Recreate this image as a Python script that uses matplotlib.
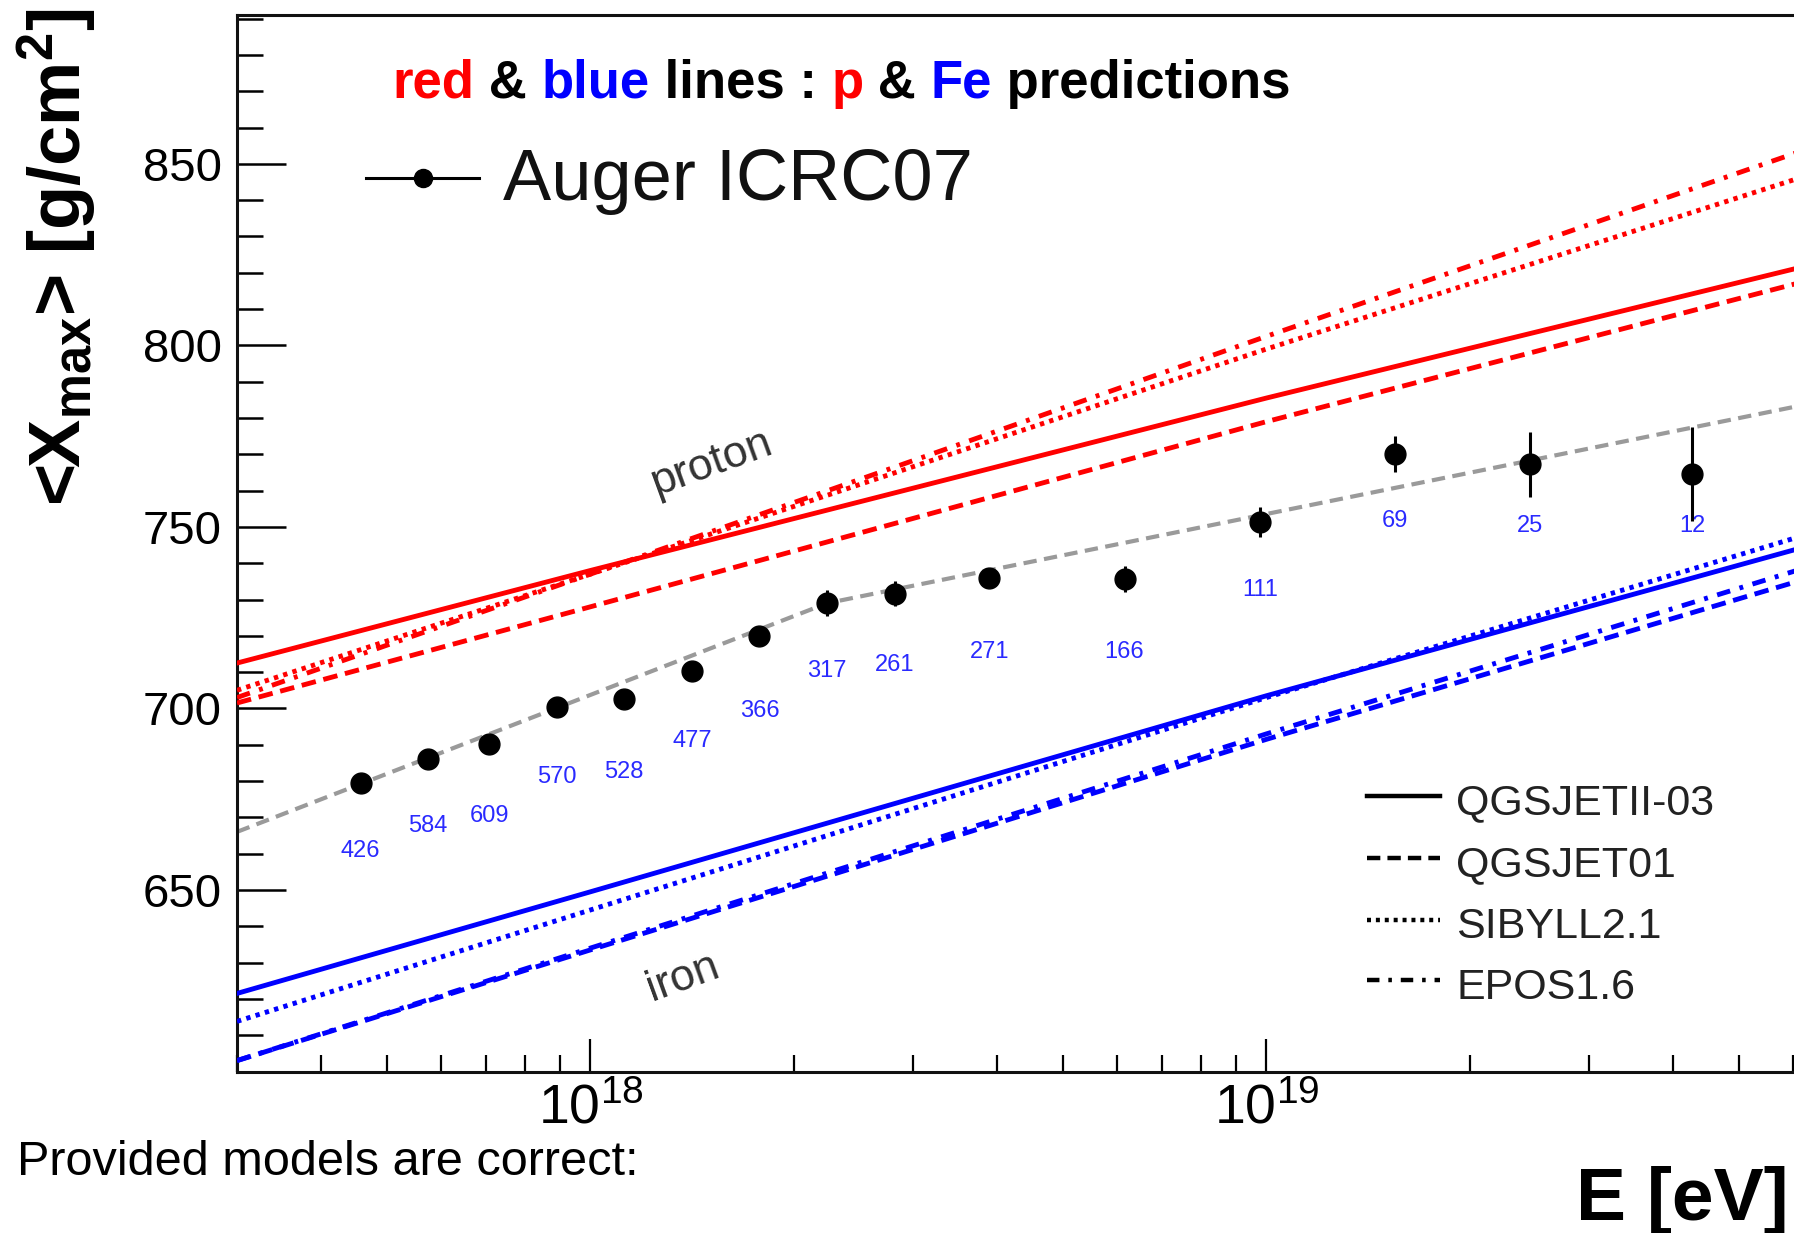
import numpy as np
import matplotlib
matplotlib.use("Agg")
import matplotlib.pyplot as plt
from matplotlib.lines import Line2D
from matplotlib.ticker import FixedLocator, LogLocator, MultipleLocator, NullFormatter

plt.rcParams["font.family"] = ["Liberation Sans", "DejaVu Sans"]
plt.rcParams["mathtext.fontset"] = "custom"
plt.rcParams["mathtext.rm"] = "Liberation Sans"
plt.rcParams["mathtext.it"] = "Liberation Sans:italic"
plt.rcParams["mathtext.bf"] = "Liberation Sans:bold"

# ---- Auger ICRC07 <Xmax> measurements ----
log_energy = [17.66, 17.76, 17.85, 17.95, 18.05, 18.15, 18.25, 18.35, 18.45,
              18.59, 18.79, 18.99, 19.19, 19.39, 19.63]
xmax_mean = [679.6, 686.2, 690.3, 700.4, 702.6, 710.2, 719.9, 729.0, 731.6,
             736.0, 735.7, 751.4, 770.0, 767.2, 764.6]
xmax_err = [2.0, 2.0, 2.0, 2.0, 2.0, 2.0, 2.5, 3.5, 3.5,
            2.5, 3.5, 4.2, 5.0, 9.0, 13.0]
event_counts = [426, 584, 609, 570, 528, 477, 366, 317, 261,
                271, 166, 111, 69, 25, 12]

# ---- broken-line elongation-rate fit ----
fit_energy = [3e17, 2.24e18, 7e19]
fit_xmax = [666.0, 729.0, 785.5]

# ---- hadronic-model predictions (proton / iron) ----
model_energy = [3e17, 1e18, 1e19, 7e19]
model_names = ["QGSJETII-03", "QGSJET01", "SIBYLL2.1", "EPOS1.6"]
proton_qgsjetii = [712.5, 738.0, 785.5, 824.0]
proton_qgsjet01 = [701.5, 728.0, 779.0, 820.0]
proton_sibyll = [705.0, 737.0, 799.0, 849.5]
proton_epos = [703.0, 737.0, 802.5, 857.0]
iron_qgsjetii = [621.5, 649.5, 703.5, 747.0]
iron_qgsjet01 = [603.0, 633.5, 691.5, 738.3]
iron_sibyll = [613.8, 644.5, 703.0, 750.5]
iron_epos = [603.0, 634.0, 693.0, 741.5]

# y positions of the event-count annotations (data units)
count_label_y = [660.7, 667.6, 670.5, 681.2, 682.4, 690.9, 699.4, 710.2, 712.0,
                 715.5, 715.5, 732.5, 751.7, 750.2, 750.2]

# ---- styles ----
LW = 3.5
line_styles = {
    "QGSJETII-03": "-",
    "QGSJET01": (0, (3.0, 1.6)),
    "SIBYLL2.1": (0, (0.9, 1.1)),
    "EPOS1.6": (0, (2.8, 2.0, 0.8, 2.0)),
}
RED = "#ff0000"
BLUE = "#0000ff"

W, H = 1794, 1233
fig = plt.figure(figsize=(W / 100, H / 100), dpi=100)
fig.patch.set_facecolor("white")

# the frame runs past the right edge of the canvas
ax_left, ax_right, ax_top, ax_bottom = 237, 1942.5, 15, 1071.5
ax = fig.add_axes([ax_left / W, 1 - ax_bottom / H,
                   (ax_right - ax_left) / W, (ax_bottom - ax_top) / H])
ax.set_xscale("log")
ax.set_xlim(3e17, 1e20)
ax.set_ylim(600, 891)

for side in ("left", "bottom", "top"):
    ax.spines[side].set_linewidth(2.2)
    ax.spines[side].set_color("#111111")
ax.spines["right"].set_visible(False)

ax.yaxis.set_major_locator(FixedLocator([650, 700, 750, 800, 850]))
ax.yaxis.set_minor_locator(MultipleLocator(10))
ax.xaxis.set_major_locator(FixedLocator([1e18, 1e19]))
ax.xaxis.set_minor_locator(LogLocator(base=10, subs=np.arange(2, 10), numticks=40))
ax.xaxis.set_minor_formatter(NullFormatter())
ax.set_xticklabels(["$10^{18}$", "$10^{19}$"])

ax.tick_params(axis="y", which="major", direction="in", length=35, width=1.8,
               labelsize=34, pad=11, right=False, colors="black")
ax.tick_params(axis="y", which="minor", direction="in", length=18.5, width=1.8,
               right=False)
ax.tick_params(axis="x", which="major", direction="in", length=23.5, width=1.6,
               labelsize=40, pad=9, top=False)
ax.tick_params(axis="x", which="minor", direction="in", length=12, width=1.6,
               top=False)

# elongation-rate fit
ax.plot(fit_energy, fit_xmax, color="#9a9a9a", lw=3.0,
        linestyle=(0, (3.2, 1.8)), zorder=2)

# model predictions
proton_lines = {"QGSJETII-03": proton_qgsjetii, "QGSJET01": proton_qgsjet01,
                "SIBYLL2.1": proton_sibyll, "EPOS1.6": proton_epos}
iron_lines = {"QGSJETII-03": iron_qgsjetii, "QGSJET01": iron_qgsjet01,
              "SIBYLL2.1": iron_sibyll, "EPOS1.6": iron_epos}
for name in model_names:
    ax.plot(model_energy, proton_lines[name], color=RED, lw=LW,
            linestyle=line_styles[name], zorder=3)
    ax.plot(model_energy, iron_lines[name], color=BLUE, lw=LW,
            linestyle=line_styles[name], zorder=3)

# measurements
energy = 10.0 ** np.array(log_energy)
ax.errorbar(energy, xmax_mean, yerr=xmax_err, fmt="o", color="black",
            ms=15, elinewidth=2.2, capsize=0, zorder=5)

for e, y, n in zip(energy, count_label_y, event_counts):
    ax.text(e, y, str(n), color="#2a2aff", fontsize=17, ha="center", va="center")

# primary labels along the bands
ax.text(1.51e18, 767.5, "proton", rotation=20, fontsize=32, color="#333333",
        ha="center", va="center", rotation_mode="anchor")
ax.text(1.37e18, 625.8, "iron", rotation=20, fontsize=32, color="#333333",
        ha="center", va="center", rotation_mode="anchor")

# ---- coloured headline: each piece starts where the previous one ends ----
pieces = [("red", RED), (" & ", "black"), ("blue", BLUE), (" lines : ", "black"),
          ("p", RED), (" & ", "black"), ("Fe", BLUE), (" predictions", "black")]
anchor = fig.text(392 / W, 1 - 98 / H, pieces[0][0], color=pieces[0][1],
                  fontsize=38, fontweight="bold", va="baseline", ha="left")
for txt, col in pieces[1:]:
    anchor = ax.annotate(txt, xy=(1, 0), xycoords=anchor, color=col,
                         fontsize=38, fontweight="bold", ha="left", va="bottom",
                         annotation_clip=False)

# ---- data legend ----
fig.add_artist(Line2D([366 / W, 479 / W], [1 - 178 / H, 1 - 178 / H],
                      transform=fig.transFigure, color="black", lw=2.2))
fig.add_artist(Line2D([423 / W], [1 - 178 / H], transform=fig.transFigure,
                      color="black", marker="o", ms=13, lw=0))
fig.text(503 / W, 1 - 200 / H, "Auger ICRC07", fontsize=52, color="#111111",
         ha="left", va="baseline")

# ---- model legend ----
row_mid = [796, 858, 920, 980]
row_base = [814, 876, 938, 999]
for name, ym, yb in zip(model_names, row_mid, row_base):
    fig.add_artist(Line2D([1367 / W, 1440 / W], [1 - ym / H, 1 - ym / H],
                          transform=fig.transFigure, color="black", lw=3.2,
                          linestyle=line_styles[name]))
    fig.text(1456 / W, 1 - yb / H, name, fontsize=31, color="#222222",
             ha="left", va="baseline")

# ---- axis titles and footer ----
fig.text(57 / W, 1 - 257 / H, "<X$_{\\mathbf{max}}$> [g/cm$^{\\mathbf{2}}$]",
         rotation=90, fontsize=52, fontweight="bold", ha="center", va="center")
fig.text(1789 / W, 1 - 1220 / H, "E [eV]", fontsize=54, fontweight="bold",
         ha="right", va="baseline")
fig.text(17 / W, 1 - 1175 / H, "Provided models are correct:", fontsize=35,
         color="black", ha="left", va="baseline")

fig.savefig("out.png", dpi=100, facecolor="white")
